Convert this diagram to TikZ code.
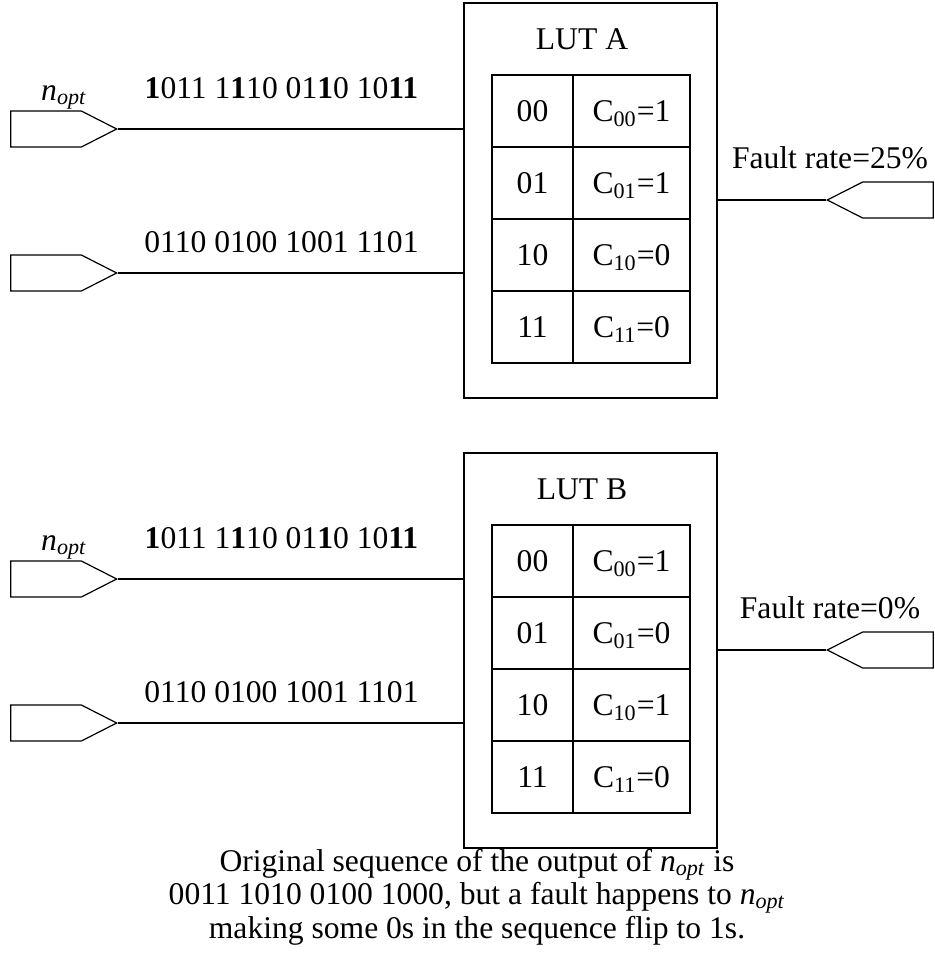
\documentclass[tikz,border=0pt]{standalone}
\usepackage{fontspec}
\setmainfont{Liberation Serif}
\usetikzlibrary{shapes.symbols}

\tikzset{
  lutbox/.style={draw, line width=0.8pt, minimum width=126.5pt, minimum height=197.5pt, inner sep=0pt},
  cell/.style={draw, line width=0.8pt, minimum height=36pt, inner sep=0pt, text height=10.5pt, text depth=0pt},
  port/.style={draw, signal, line width=0.6pt, minimum width=53pt, minimum height=18pt, inner sep=0pt, signal pointer angle=54},
  wire/.style={line width=0.8pt},
}
\newcommand{\nopt}{\textit{n}\textsubscript{\textit{opt}}}

\begin{document}
\begin{tikzpicture}[x=0.5pt,y=-0.5pt,font=\fontsize{15.8pt}{16.75pt}\selectfont]
    \useasboundingbox (0,0) rectangle (935,966);

    % the two LUTs, B sits 450 below A
    \foreach \lut/\dy/\va/\vb/\vc/\vd/\rate in {A/0/1/1/0/0/25, B/450/1/0/1/0/0} {
        \node[lutbox] (lut\lut) at (590.5,200.5+\dy) {};
        \node[anchor=base] (title\lut) at (582,49+\dy) {LUT \lut};
        \foreach \r/\k/\v in {0/00/\va, 1/01/\vb, 2/10/\vc, 3/11/\vd} {
            \node[cell, minimum width=40.5pt] (key\lut\r) at (532.5,111+72*\r+\dy) {\k};
            \node[cell, minimum width=58.5pt] (val\lut\r) at (631.5,111+72*\r+\dy) {C\textsubscript{\k}=\v};
        }

        % inputs
        \node[port, signal to=east, anchor=east] (inp\lut1) at (118,129+\dy) {};
        \node[port, signal to=east, anchor=east] (inp\lut2) at (118,273+\dy) {};
        \draw[wire] (inp\lut1.east) -- (inp\lut1.east -| lut\lut.west);
        \draw[wire] (inp\lut2.east) -- (inp\lut2.east -| lut\lut.west);
        \node[anchor=base] (name\lut) at (64,100+\dy) {\nopt};
        \node[anchor=base] (seq\lut1) at (281.5,98+\dy)
            {\textbf{1}011 1\textbf{1}10 01\textbf{1}0 10\textbf{11}};
        \node[anchor=base] (seq\lut2) at (281.5,252+\dy) {0110 0100 1001 1101};

        % output
        \node[port, signal to=west, anchor=west] (out\lut) at (826,200+\dy) {};
        \draw[wire] (lut\lut.east |- out\lut.west) -- (out\lut.west);
        \node[anchor=base] (rate\lut) at (830,168+\dy) {Fault rate=\rate\%};
    }

    \node[anchor=base, align=center] (note) at (477,938)
        {Original sequence of the output of \nopt{} is\\
         0011 1010 0100 1000, but a fault happens to \nopt\\
         making some 0s in the sequence flip to 1s.};
\end{tikzpicture}
\end{document}
